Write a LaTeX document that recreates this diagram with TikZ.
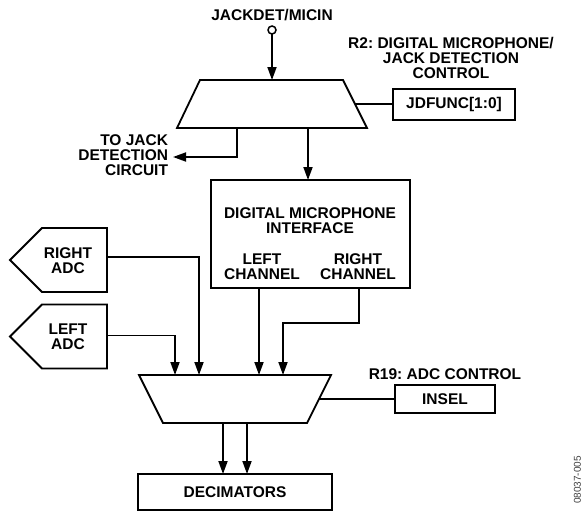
\documentclass[tikz,border=0pt]{standalone}
\usepackage{fontspec}
\setmainfont{Liberation Sans}
\usetikzlibrary{arrows.meta,calc}
\frenchspacing
\begin{document}
\begin{tikzpicture}[x=1pt,y=-1pt,
  every node/.style={font=\fontsize{15.5}{14.8}\selectfont\bfseries, inner sep=0pt, outer sep=0pt},
  line/.style={line width=1.8pt},
  ctl/.style={line width=1.2pt},
  arr/.style={line width=1.8pt, -{Triangle[length=13pt,width=9pt]}},
  boxx/.style={draw, line width=1.8pt, rectangle},
  frame/.style={rectangle, draw=none}
]
\useasboundingbox (0,0) rectangle (585,514);

% input
\node (jack) at (272,15) {JACKDET/MICIN};
\node[draw, circle, line width=1.5pt, minimum size=8pt] (pin) at (272,30) {};

% mux 1 (wide at bottom)
\node[frame, minimum width=190pt, minimum height=48pt] (mux1) at (272,104) {};
\draw[line, line join=miter] ([xshift=23pt]mux1.north west) -- ([xshift=-24pt]mux1.north east)
  -- (mux1.south east) -- (mux1.south west) -- cycle;
\coordinate (m1r) at ([xshift=-12pt]mux1.east);
\draw[arr] (pin.south) -- (mux1.north);

% R2 control
\node[align=center] (r2) at (451,58) {R2: DIGITAL MICROPHONE/\\JACK DETECTION\\CONTROL};
\node[boxx, minimum width=122pt, minimum height=31pt] (jdf) at (454,104.5) {JDFUNC[1:0]};
\draw[ctl] (m1r) -- (m1r -| jdf.west);

% to jack detection
\node[align=right, anchor=east] (tojack) at (168,155) {TO JACK\\DETECTION\\CIRCUIT};
\coordinate (tj) at ([xshift=5pt,yshift=-2pt]tojack.east);
\draw[arr] (237,0 |- mux1.south) |- (tj);

% digital microphone interface
\node[boxx, minimum width=199pt, minimum height=108pt] (dmi) at (310.5,234) {};
\draw[arr] (308,0 |- mux1.south) -- (308,0 |- dmi.north);
\node[align=center] (dmit) at (310,221) {DIGITAL MICROPHONE\\INTERFACE};
\node[align=center] (lch) at (262,267) {LEFT\\CHANNEL};
\node[align=center] (rch) at (358,267) {RIGHT\\CHANNEL};

% ADCs (pentagons pointing left)
\node[frame, minimum width=97pt, minimum height=64pt] (radc) at (58.5,260) {};
\draw[line, line join=miter] (radc.west) -- ([xshift=32pt]radc.north west) -- (radc.north east)
  -- (radc.south east) -- ([xshift=32pt]radc.south west) -- cycle;
\node[align=center] (radct) at (68,261) {RIGHT\\ADC};
\node[frame, minimum width=97pt, minimum height=64pt] (ladc) at (58.5,336.5) {};
\draw[line, line join=miter] (ladc.west) -- ([xshift=32pt]ladc.north west) -- (ladc.north east)
  -- (ladc.south east) -- ([xshift=32pt]ladc.south west) -- cycle;
\node[align=center] (ladct) at (68,337) {LEFT\\ADC};

% mux 2 (wide at top)
\node[frame, minimum width=192pt, minimum height=48pt] (mux2) at (235,399) {};
\draw[line, line join=miter] (mux2.north west) -- (mux2.north east)
  -- ([xshift=-24pt]mux2.south east) -- ([xshift=24pt]mux2.south west) -- cycle;
\coordinate (m2r) at ([xshift=-12pt]mux2.east);

\draw[arr] ([yshift=3pt]radc.east) -| (199,0 |- mux2.north);
\draw[arr] ([yshift=1pt]ladc.east) -| (175,0 |- mux2.north);
\draw[arr] (259,0 |- dmi.south) -- (259,0 |- mux2.north);
\coordinate (rbend) at (359,323);
\draw[arr] (359,0 |- dmi.south) -- (rbend) -| (283,0 |- mux2.north);

% R19 control
\node (r19) at (445,374) {R19: ADC CONTROL};
\node[boxx, minimum width=100pt, minimum height=28pt] (insel) at (445,399) {INSEL};
\draw[ctl] (m2r) -- (insel.west);

% decimators
\node[boxx, minimum width=194pt, minimum height=36pt] (dec) at (235,492) {DECIMATORS};
\draw[arr] (223,0 |- mux2.south) -- (223,0 |- dec.north);
\draw[arr] (247,0 |- mux2.south) -- (247,0 |- dec.north);

% figure code
\node[rotate=90, font=\fontsize{10}{10}\selectfont, text=black!75] (code) at (577.5,480) {08037-005};
\end{tikzpicture}
\end{document}
